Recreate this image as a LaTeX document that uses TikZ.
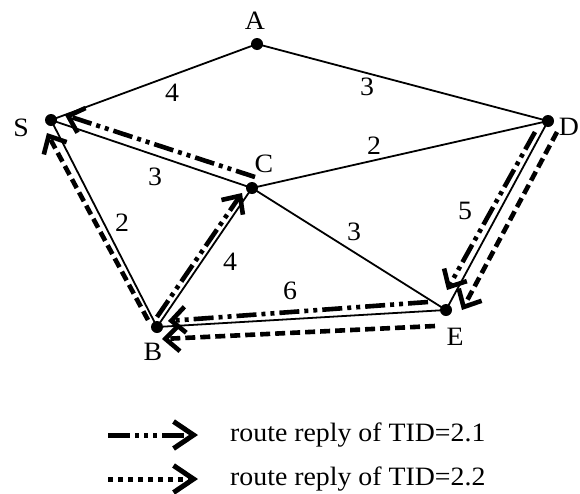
\documentclass[tikz,border=0pt]{standalone}
\usepackage{fontspec}
\setmainfont{Liberation Serif}[FakeStretch=1.05]
\usetikzlibrary{arrows.meta,calc}
\begin{document}
\begin{tikzpicture}[x=1pt,y=-1pt,
  vertex/.style={circle,fill=black,inner sep=0pt,minimum size=12pt},
  edge/.style={line width=1.8pt},
  lbl/.style={font=\fontsize{26.5}{28}\selectfont,inner sep=0pt},
  reply/.style={line width=4.6pt,-{Straight Barb[length=14pt,width=26pt]}},
  tida/.style={reply,dash pattern=on 20pt off 5pt on 4pt off 5pt on 4pt off 5pt},
  tidb/.style={reply,dash pattern=on 10pt off 5pt},
  keya/.style={line width=5pt,-{Straight Barb[length=20pt,width=27pt]},
    dash pattern=on 22pt off 5pt on 4pt off 5pt on 4pt off 5pt on 4pt off 5pt},
  keyb/.style={line width=5pt,-{Straight Barb[length=20pt,width=27pt]},
    dash pattern=on 5pt off 5pt},
]
\useasboundingbox (0,0) rectangle (580,493);

% vertices
\node[vertex] (A) at (257,44) {};
\node[vertex] (S) at (51,120) {};
\node[vertex] (D) at (548,121) {};
\node[vertex] (C) at (252,188) {};
\node[vertex] (B) at (157,327) {};
\node[vertex] (E) at (446,310) {};

% vertex names
\node[lbl] (nA) at (255,21) {A};
\node[lbl] (nS) at (21,128) {S};
\node[lbl] (nD) at (569,127) {D};
\node[lbl] (nC) at (264,164) {C};
\node[lbl] (nB) at (153,352) {B};
\node[lbl] (nE) at (455,337) {E};

% links
\draw[edge] (S.center) -- (A.center);
\draw[edge] (A.center) -- (D.center);
\draw[edge] (S.center) -- (C.center);
\draw[edge] (C.center) -- (D.center);
\draw[edge] (S.center) -- (B.center);
\draw[edge] (B.center) -- (C.center);
\draw[edge] (C.center) -- (E.center);
\draw[edge] (B.center) -- (E.center);
\draw[edge] (D.center) -- (E.center);

% link costs
\node[lbl] (wSA) at (172,93) {4};
\node[lbl] (wAD) at (367,87) {3};
\node[lbl] (wCD) at (374,146) {2};
\node[lbl] (wSC) at (155,177) {3};
\node[lbl] (wSB) at (122,223) {2};
\node[lbl] (wBC) at (230,262) {4};
\node[lbl] (wCE) at (354,232) {3};
\node[lbl] (wDE) at (465,211) {5};
\node[lbl] (wBE) at (290,291) {6};

% route reply, TID=2.1
\draw[tida] ($(D)+(-13,11)$) -- ($(E)+(1,-20)$);
\draw[tida] ($(E)+(-18,-8)$) -- ($(B)+(11,-6)$);
\draw[tida] ($(B)+(0,-10)$) -- ($(C)+(-10,5)$);
\draw[tida] ($(C)+(3,-11)$) -- ($(S)+(14,-5)$);

% route reply, TID=2.2
\draw[tidb] ($(D)+(9,11)$) -- ($(E)+(16,0)$);
\draw[tidb] ($(E)+(-11,16)$) -- ($(B)+(5,12)$);
\draw[tidb] ($(B)+(-9,-7)$) -- ($(S)+(-4,13)$);

% key
\coordinate (ka1) at (108,435);
\coordinate (ka2) at (198,435);
\coordinate (kb1) at (108,479);
\coordinate (kb2) at (198,479);
\draw[keya] (ka1) -- (ka2);
\draw[keyb] (kb1) -- (kb2);
\node[lbl,anchor=west] (ta) at (230,435) {route reply of TID=2.1};
\node[lbl,anchor=west] (tb) at (230,479) {route reply of TID=2.2};
\end{tikzpicture}
\end{document}
